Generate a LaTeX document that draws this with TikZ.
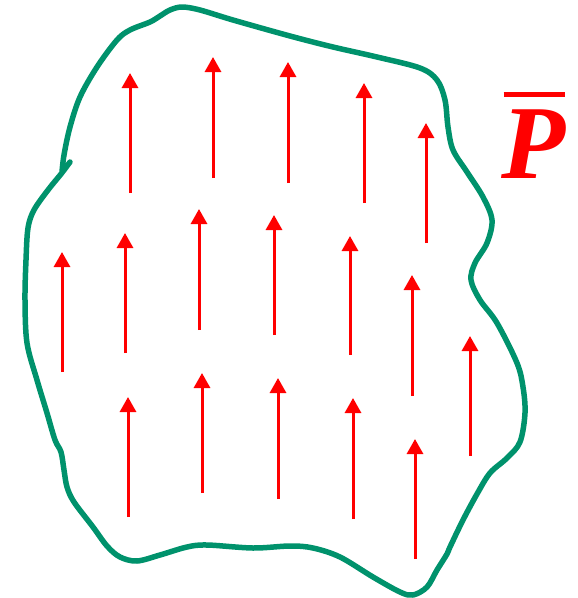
\documentclass[tikz,border=0pt]{standalone}
\usepackage{fontspec}
\setmainfont{Liberation Serif}
\usetikzlibrary{arrows.meta}

\definecolor{blobgreen}{RGB}{0,146,108}

\begin{document}
\begin{tikzpicture}[
  x=1pt, y=-1pt,
  vec/.style  = {-{Triangle[length=15pt, width=16pt]}, line width=3pt, red},
  blob/.style = {line width=5.5pt, blobgreen, line cap=round, line join=round},
  lab/.style  = {red, font=\fontsize{105}{105}\selectfont\bfseries\itshape, align=center, inner sep=0pt}
]
\useasboundingbox (0,0) rectangle (578,598);

% ================= outline of the body =================
\draw[blob] plot[smooth, tension=0.55] coordinates {
  (70,162) (61,174) (48,190) (34,210) (28,228) (26,260) (25,300) (27,343)
  (37,380) (47,413) (55,440) (61,452) (64,470) (67,487) (74,502) (93,527)
  (107,546) (120,557) (137,561) (160,555) (187,547) (207,545) (253,548)
  (290,546) (313,548) (340,557) (373,577) (400,592) (413,595) (427,587)
  (437,570) (447,554) (450,547) (463,520) (477,494) (490,473) (507,458)
  (520,442) (525,413) (523,387) (517,363) (497,323) (480,300) (471,280)
  (475,263) (487,243) (492,220) (483,197) (467,172) (453,150) (448,127)
  (445,100) (437,80) (420,68) (377,57) (333,47) (290,36) (233,20) (200,10)
  (182,7) (170,10) (160,16) (150,22) (130,30) (117,40) (97,67) (80,97)
  (70,127) (64,155) (62,172)};

% ================= polarisation vectors (x, tail, head) =================
\foreach \x/\yt/\yh [count=\i] in {
    130/193/73, 213/178/57, 288/183/62, 364/203/83, 426/243/123,
    62/372/252, 125/353/233, 199/330/209, 274/335/215, 350/355/236, 412/396/275, 470/456/336,
    128/517/397, 202/493/373, 278/499/378, 353/519/398, 415/559/439} {
  \coordinate (t\i) at (\x,\yt);
  \coordinate (h\i) at (\x,\yh);
  \draw[vec] (t\i) -- (h\i);
}

% ================= label =================
\node[lab] (pbar) at (534,135) {\rule{61pt}{5pt}\\[-24pt]P};

\end{tikzpicture}
\end{document}
